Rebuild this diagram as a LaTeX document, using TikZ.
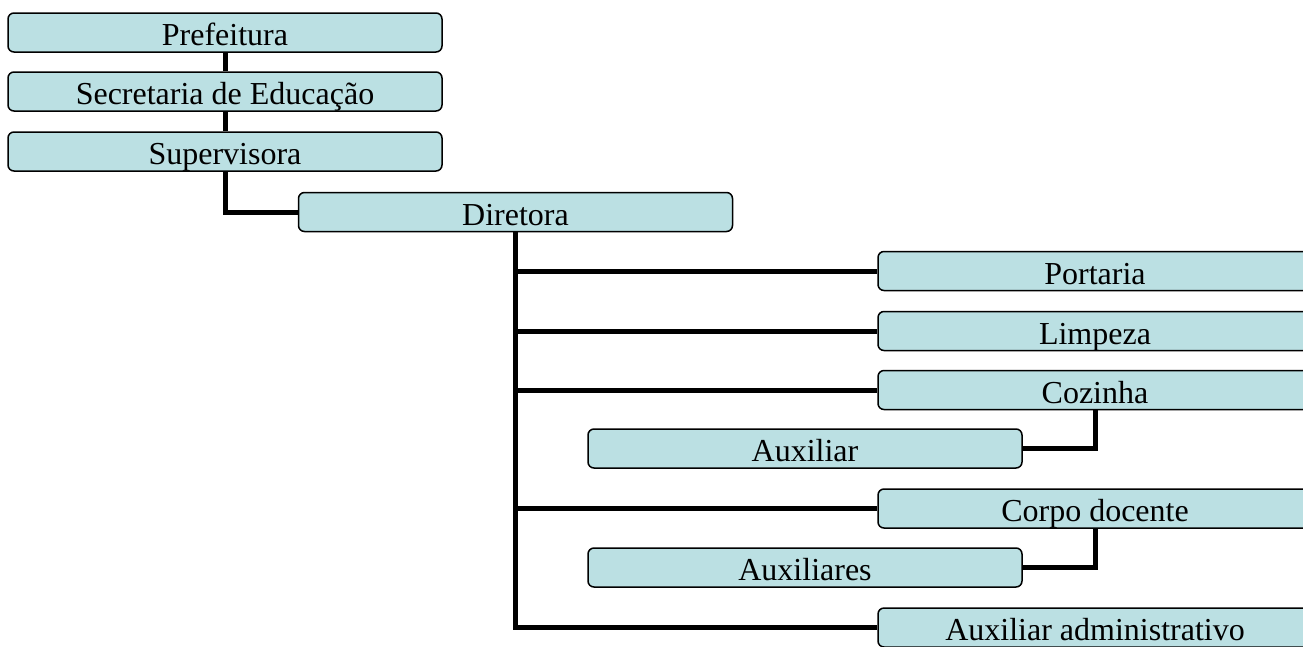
\documentclass[tikz,border=0pt]{standalone}
\usepackage{fontspec}
\setmainfont{Liberation Serif}
\definecolor{boxfill}{RGB}{187,224,227}
\begin{document}
\begin{tikzpicture}[x=1pt,y=-1pt,
  orgbox/.style={draw=black, line width=1.5pt, fill=boxfill, rounded corners=6pt,
    minimum width=434pt, minimum height=39pt, inner sep=0pt,
    text height=27pt, text depth=1pt,
    font=\fontsize{32}{36}\selectfont},
  link/.style={line width=5pt}]
\useasboundingbox (0,0) rectangle (1303,646);
\clip (0,0) rectangle (1303,646);
\fill[white] (0,0) rectangle (1303,646);
\node[orgbox] (pref) at (225,32.5) {Prefeitura};
\node[orgbox] (sec) at (225,91.5) {Secretaria de Educação};
\node[orgbox] (sup) at (225,151.5) {Supervisora};
\node[orgbox] (dir) at (515.5,212) {Diretora};
\node[orgbox] (port) at (1095,271) {Portaria};
\node[orgbox] (limp) at (1095,331) {Limpeza};
\node[orgbox] (coz) at (1095,390) {Cozinha};
\node[orgbox] (aux) at (805,448.5) {Auxiliar};
\node[orgbox] (corpo) at (1095,508.5) {Corpo docente};
\node[orgbox] (auxs) at (805,567.5) {Auxiliares};
\node[orgbox] (adm) at (1095,627.5) {Auxiliar administrativo};
\begin{scope}[link]
\draw (pref.south) -- (sec.north);
\draw (sec.south) -- (sup.north);
\draw (sup.south) |- (dir.west);
\draw (dir.south) |- (port.west);
\draw (dir.south) |- (limp.west);
\draw (dir.south) |- (coz.west);
\draw (dir.south) |- (corpo.west);
\draw (dir.south) |- (adm.west);
\draw (coz.south) |- (aux.east);
\draw (corpo.south) |- (auxs.east);
\end{scope}
\end{tikzpicture}
\end{document}
